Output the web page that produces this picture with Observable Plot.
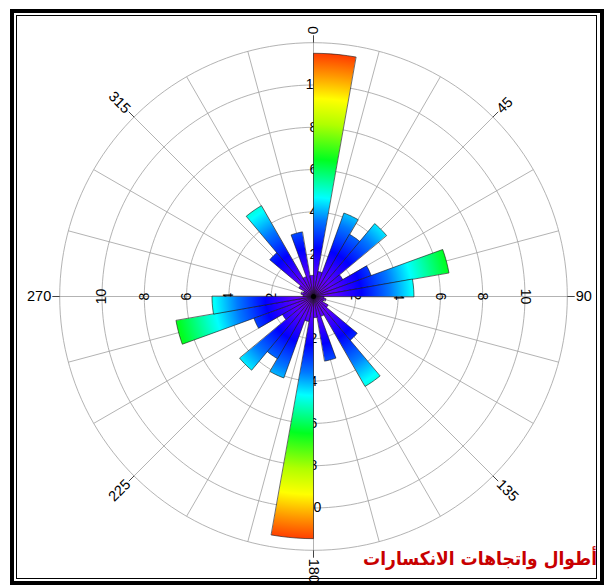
<!DOCTYPE html>
<html>
<head>
<meta charset="utf-8">
<script src="https://cdn.jsdelivr.net/npm/d3@7"></script>
<script src="https://cdn.jsdelivr.net/npm/@observablehq/plot@0.6"></script>
<style>
html, body { margin: 0; padding: 0; background: #fff; }
#wrap { position: relative; width: 606px; height: 587px; overflow: hidden; }
#wrap svg { position: absolute; left: 0; top: 0; }
#frameOuter { position: absolute; left: 10px; top: 9px; width: 586px; height: 568px; border: 4px solid #000; pointer-events: none; }
#frameInner { position: absolute; left: 16px; top: 15px; width: 579px; height: 562px; border: 1px solid #000; pointer-events: none; }
#title { position: absolute; right: 9px; top: 547px; font: bold 19px "DejaVu Sans Condensed", "DejaVu Sans", sans-serif; color: #c80000; direction: rtl; white-space: nowrap; }
</style>
</head>
<body>
<div id="wrap">
  <div id="title">أطوال واتجاهات الانكسارات</div>
  <div id="frameOuter"></div>
  <div id="frameInner"></div>
</div>
<script>
// ---- data ----
const binStarts = [0,10,20,30,40,50,60,70,80,90,100,110,120,130,140,150,160,170,
                   180,190,200,210,220,230,240,250,260,270,280,290,300,310,320,330,340,350];
const binWidth = 10;
const lengths = [11.5,1.2,4.2,3.4,4.5,1.6,2.9,6.5,4.75,0.5,0.6,0.5,0.8,2.7,4.9,1.0,3.1,1.0,
                 11.45,1.2,4.1,3.4,4.55,1.7,3.0,6.6,4.8,0.5,0.6,0.5,0.8,2.7,4.95,1.0,3.1,1.0];
const ringValues = [2,4,6,8,10,12];
const ringLabels = [2,4,6,8,10];
const directionLabels = [0,45,90,135,180,225,270,315];
const spokeAngles = [0,15,30,45,60,75,90,105,120,135,150,165,180,195,210,225,240,255,270,285,300,315,330,345];
const rMax = 12;

// ---- helpers ----
const rad = a => a * Math.PI / 180;
const px = (a, r) => r * Math.sin(rad(a));
const py = (a, r) => r * Math.cos(rad(a));

// wedge outlines built from bins + lengths
const wedgePts = [];
binStarts.forEach((a0, i) => {
  const L = lengths[i];
  wedgePts.push({bin: i, x: 0, y: 0});
  for (let s = 0; s <= 5; s++) {
    const a = a0 + s * binWidth / 5;
    wedgePts.push({bin: i, x: px(a, L), y: py(a, L)});
  }
});

// ring outlines
const ringPts = [];
ringValues.forEach(r => {
  for (let a = 0; a < 360; a += 2) ringPts.push({ring: r, x: px(a, r), y: py(a, r)});
});

// ring labels on the four axes
const ringLabelData = [];
ringLabels.forEach(r => {
  ringLabelData.push({t: r, x: 0, y: r, rot: 0});
  ringLabelData.push({t: r, x: r, y: 0, rot: 90});
  ringLabelData.push({t: r, x: 0, y: -r, rot: 0});
  ringLabelData.push({t: r, x: -r, y: 0, rot: -90});
});

const k = 21.15; // px per unit
const cxPx = 313, cyPx = 296, W = 606, H = 587;

const chart = Plot.plot({
  width: W, height: H, margin: 0,
  x: {domain: [-cxPx / k, (W - cxPx) / k], axis: null},
  y: {domain: [-(H - cyPx) / k, cyPx / k], axis: null},
  style: {background: "transparent", fontFamily: "'Liberation Sans', Arial, sans-serif"},
  marks: [
    Plot.line(ringPts, {x: "x", y: "y", z: "ring", stroke: "#a0a0a0", strokeWidth: 0.8, curve: "linear-closed"}),
    Plot.link(spokeAngles, {x1: 0, y1: 0, x2: a => px(a, rMax), y2: a => py(a, rMax), stroke: "#a0a0a0", strokeWidth: 0.8}),
    Plot.text(ringLabelData, {x: "x", y: "y", text: "t", rotate: "rot", fontSize: 14, fill: "#000"}),
    Plot.line(wedgePts, {x: "x", y: "y", z: "bin", fill: "url(#roseGrad)", stroke: "#111", strokeWidth: 0.6, curve: "linear-closed"}),
    Plot.link(directionLabels, {x1: a => px(a, rMax), y1: a => py(a, rMax), x2: a => px(a, rMax + 0.35), y2: a => py(a, rMax + 0.35), stroke: "#444", strokeWidth: 1}),
    Plot.text(directionLabels.filter(a => a <= 180), {x: a => px(a, rMax + 0.4), y: a => py(a, rMax + 0.4), text: a => String(a), rotate: a => a - 90, textAnchor: "start", fontSize: 14.5, fill: "#000"}),
    Plot.text(directionLabels.filter(a => a > 180), {x: a => px(a, rMax + 0.4), y: a => py(a, rMax + 0.4), text: a => String(a), rotate: a => a - 270, textAnchor: "end", fontSize: 14.5, fill: "#000"}),
    Plot.dot([0], {x: 0, y: 0, r: 2.5, fill: "#000"})
  ]
});

// radial rainbow gradient anchored on the plot's own scales
const sx = chart.scale("x"), sy = chart.scale("y");
const gcx = sx.apply(0), gcy = sy.apply(0), gR = sx.apply(rMax) - sx.apply(0);
const stops = [
  [0, "#7a00d8"], [0.08, "#5a00ff"], [0.19, "#0000ff"], [0.30, "#0078ff"],
  [0.39, "#00ffff"], [0.54, "#00ff20"], [0.68, "#b0ff00"], [0.78, "#ffff00"],
  [0.87, "#ff9a00"], [0.95, "#ff4400"], [1, "#ff2000"]
];
const defs = d3.select(chart).insert("defs", ":first-child");
const g = defs.append("radialGradient").attr("id", "roseGrad").attr("gradientUnits", "userSpaceOnUse")
  .attr("cx", gcx).attr("cy", gcy).attr("r", gR);
stops.forEach(([o, c]) => g.append("stop").attr("offset", o).attr("stop-color", c));

document.getElementById("wrap").prepend(chart);
</script>
</body>
</html>
